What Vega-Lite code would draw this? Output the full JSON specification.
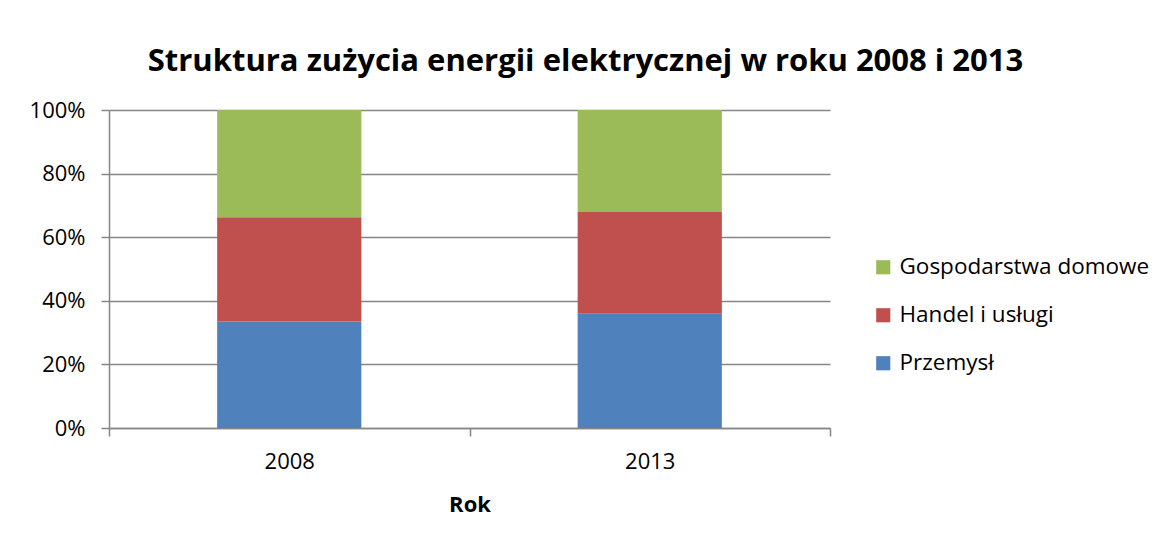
{
  "$schema": "https://vega.github.io/schema/vega-lite/v6.json",
  "width": 721,
  "height": 318,
  "autosize": {"type": "none"},
  "padding": {"left": 109, "top": 110, "right": 333, "bottom": 117},
  "background": "white",
  "title": {
    "text": "Struktura zużycia energii elektrycznej w roku 2008 i 2013",
    "font": "Open Sans",
    "fontSize": 31,
    "fontWeight": "bold",
    "color": "#000000",
    "anchor": "middle",
    "dx": 116,
    "offset": 21
  },
  "data": {
    "values": [
      {"Rok": "2008", "Sektor": "Przemysł", "Udzial": 0.335, "Kolejnosc": 1},
      {"Rok": "2008", "Sektor": "Handel i usługi", "Udzial": 0.328, "Kolejnosc": 2},
      {"Rok": "2008", "Sektor": "Gospodarstwa domowe", "Udzial": 0.337, "Kolejnosc": 3},
      {"Rok": "2013", "Sektor": "Przemysł", "Udzial": 0.359, "Kolejnosc": 1},
      {"Rok": "2013", "Sektor": "Handel i usługi", "Udzial": 0.320, "Kolejnosc": 2},
      {"Rok": "2013", "Sektor": "Gospodarstwa domowe", "Udzial": 0.321, "Kolejnosc": 3}
    ]
  },
  "mark": {"type": "bar", "width": {"band": 0.4}},
  "encoding": {
    "x": {
      "field": "Rok",
      "type": "nominal",
      "scale": {"paddingInner": 0, "paddingOuter": 0},
      "axis": {
        "title": "Rok",
        "titleFont": "Open Sans",
        "titleFontSize": 22,
        "titleFontWeight": "bold",
        "titleColor": "#000000",
        "titlePadding": 22,
        "labelFont": "Open Sans",
        "labelFontSize": 22,
        "labelColor": "#000000",
        "labelAngle": 0,
        "labelPadding": 15,
        "tickBand": "extent",
        "tickSize": 8,
        "tickColor": "#868686",
        "tickWidth": 1.5,
        "domainColor": "#868686",
        "domainWidth": 1.5,
        "grid": false
      }
    },
    "y": {
      "field": "Udzial",
      "type": "quantitative",
      "stack": "zero",
      "scale": {"domain": [0, 1], "nice": false},
      "axis": {
        "title": null,
        "format": ".0%",
        "values": [0, 0.2, 0.4, 0.6, 0.8, 1],
        "labelFont": "Open Sans",
        "labelFontSize": 22,
        "labelColor": "#000000",
        "labelPadding": 16,
        "tickSize": 8,
        "tickColor": "#868686",
        "tickWidth": 1.5,
        "domainColor": "#868686",
        "domainWidth": 1.5,
        "gridColor": "#868686",
        "gridWidth": 1.5
      }
    },
    "color": {
      "field": "Sektor",
      "type": "nominal",
      "scale": {
        "domain": ["Gospodarstwa domowe", "Handel i usługi", "Przemysł"],
        "range": ["#9BBB59", "#C0504D", "#4F81BD"]
      },
      "legend": {
        "title": null,
        "orient": "none",
        "legendX": 763,
        "legendY": 146,
        "symbolType": "square",
        "symbolSize": 200,
        "symbolStrokeWidth": 0,
        "labelFont": "Open Sans",
        "labelFontSize": 22.5,
        "labelColor": "#000000",
        "labelLimit": 400,
        "labelOffset": 5,
        "rowPadding": 25
      }
    },
    "order": {"field": "Kolejnosc", "type": "quantitative", "sort": "ascending"}
  },
  "config": {
    "view": {"stroke": null}
  }
}
